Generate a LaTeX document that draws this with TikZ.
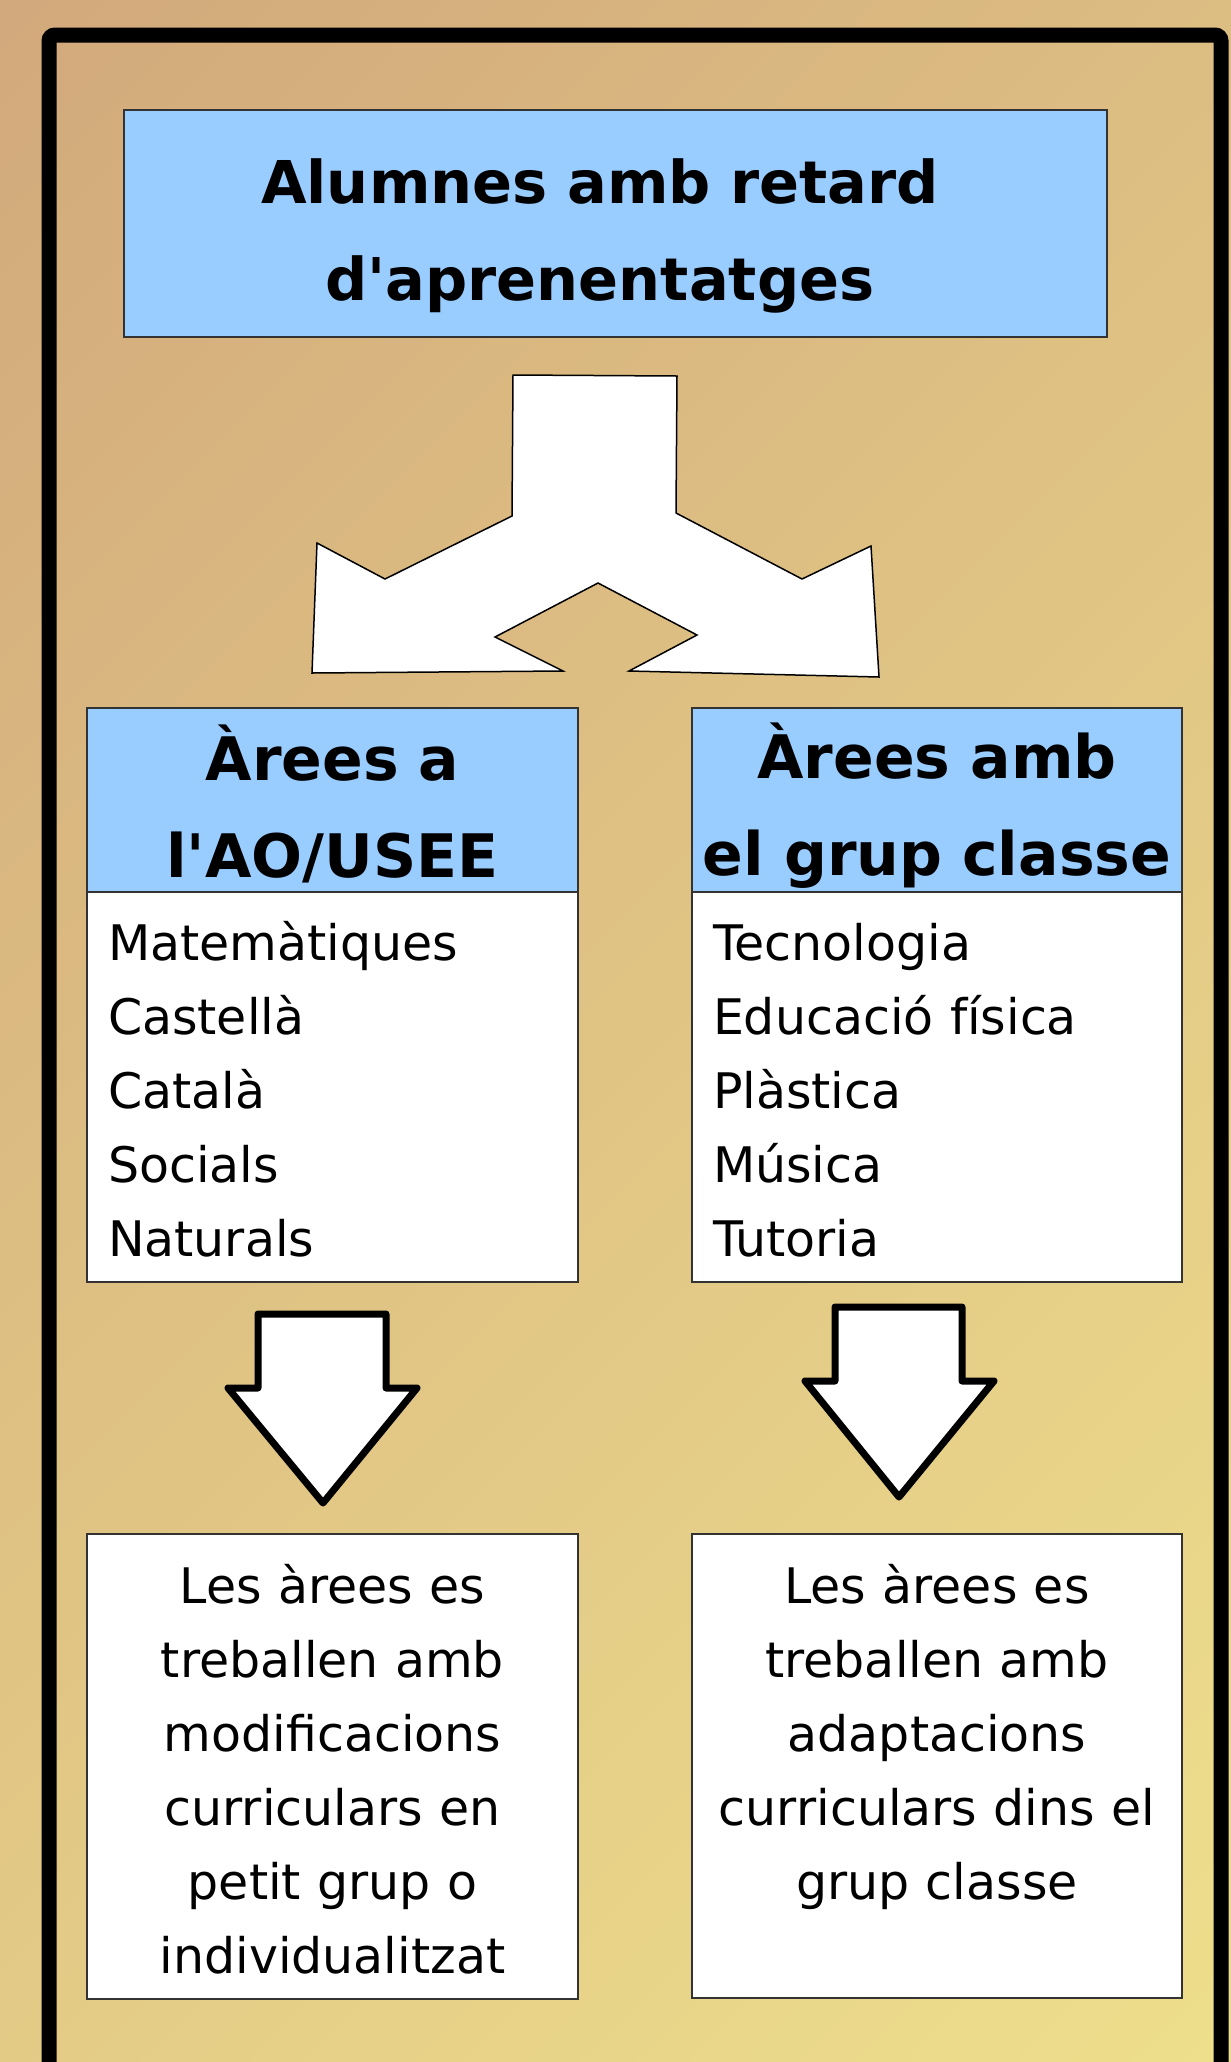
\documentclass[tikz,border=0pt]{standalone}
\usepackage{fontspec}
\setmainfont{DejaVu Sans}
\definecolor{bgA}{HTML}{D2A97C}
\definecolor{bgB}{HTML}{EEDF8C}
\definecolor{hdrblue}{HTML}{99CCFF}
\definecolor{boxline}{HTML}{333333}
\newcommand\ttlfnt{\fontsize{59}{97}\selectfont\bfseries}
\newcommand\hdrfnt{\fontsize{60}{97}\selectfont\bfseries}
\newcommand\lstfnt{\fontsize{49}{74}\selectfont}
\begin{document}
\begin{tikzpicture}[x=1pt,y=-1pt,
  box/.style={draw=boxline, line width=1.5pt, outer sep=0pt, inner sep=0pt, anchor=north west},
  txt/.style={inner sep=0pt, outer sep=0pt, anchor=base},
  blockarrow/.style={draw=black, fill=white, line width=7pt, line join=round},
  splitarrow/.style={draw=black, fill=white, line width=1.5pt, line join=miter}]
\useasboundingbox (0,0) rectangle (1231,2062);
\begin{scope}
  \clip (0,0) rectangle (1231,2062);
  \foreach \i in {0,...,59}{
    \pgfmathsetmacro{\ca}{\i*55}
    \pgfmathsetmacro{\cb}{\i*55+57}
    \pgfmathsetmacro{\p}{100*\i/59}
    \fill[bgB!\p!bgA] (\ca,0) -- (\cb,0) -- ({\cb-2062},2062) -- ({\ca-2062},2062) -- cycle;
  }
  \draw[line width=15pt, rounded corners=6pt] (49,35) rectangle (1221,2200);
\end{scope}

% title
\node[box, fill=hdrblue, minimum width=983pt, minimum height=227pt] (title) at (124,110) {};
\node[txt, font=\ttlfnt, text width=950pt, align=center] (titletext) at (600,203)
  {Alumnes amb retard\\d\textquotesingle aprenentatges};

% split arrow
\draw[splitarrow] (513,375) -- (677,376) -- (676,513) -- (802,579) -- (871,546) -- (879,677)
  -- (629,671) -- (697,635) -- (598,583) -- (495,637) -- (563,671) -- (312,673)
  -- (317,543) -- (385,579) -- (512,516) -- cycle;

% left column
\node[box, fill=hdrblue, minimum width=491pt, minimum height=184pt] (lhead) at (87,708) {};
\node[txt, font=\hdrfnt, text width=480pt, align=center] (lheadtext) at (332.5,780)
  {Àrees a\hspace*{0.45em}\\l\textquotesingle AO/USEE};
\node[box, fill=white, minimum width=491pt, minimum height=390pt] (lbody) at (87,892) {};
\node[txt, anchor=base west, font=\lstfnt, text width=460pt, align=left] (llist) at (108,960)
  {Matemàtiques\\Castellà\\Català\\Socials\\Naturals};

% right column
\node[box, fill=hdrblue, minimum width=490pt, minimum height=184pt] (rhead) at (692,708) {};
\node[txt, font=\hdrfnt, text width=480pt, align=center] (rheadtext) at (937,778)
  {Àrees amb\hspace*{0.45em}\\el grup classe};
\node[box, fill=white, minimum width=490pt, minimum height=390pt] (rbody) at (692,892) {};
\node[txt, anchor=base west, font=\lstfnt, text width=460pt, align=left] (rlist) at (713,960)
  {Tecnologia\\Educació física\\Plàstica\\Música\\Tutoria};

% down arrows
\draw[blockarrow] (258,1314) -- (386,1314) -- (386,1388) -- (417,1388) -- (323,1503)
  -- (228,1388) -- (258,1388) -- cycle;
\draw[blockarrow] (835,1307) -- (962,1307) -- (962,1381) -- (994,1381) -- (899,1497)
  -- (805,1381) -- (835,1381) -- cycle;

% bottom boxes
\node[box, fill=white, minimum width=491pt, minimum height=465pt] (lbottom) at (87,1534) {};
\node[txt, font=\lstfnt, text width=480pt, align=center] (lbottomtext) at (332.5,1603)
  {Les àrees es\\treballen amb\hspace*{0.3em}\\modificacions\\curriculars en\\petit grup o\\individualitzat};
\node[box, fill=white, minimum width=490pt, minimum height=464pt] (rbottom) at (692,1534) {};
\node[txt, font=\lstfnt, text width=480pt, align=center] (rbottomtext) at (937,1603)
  {Les àrees es\\treballen amb\hspace*{0.3em}\\adaptacions\\curriculars dins el\\grup classe};
\end{tikzpicture}
\end{document}
